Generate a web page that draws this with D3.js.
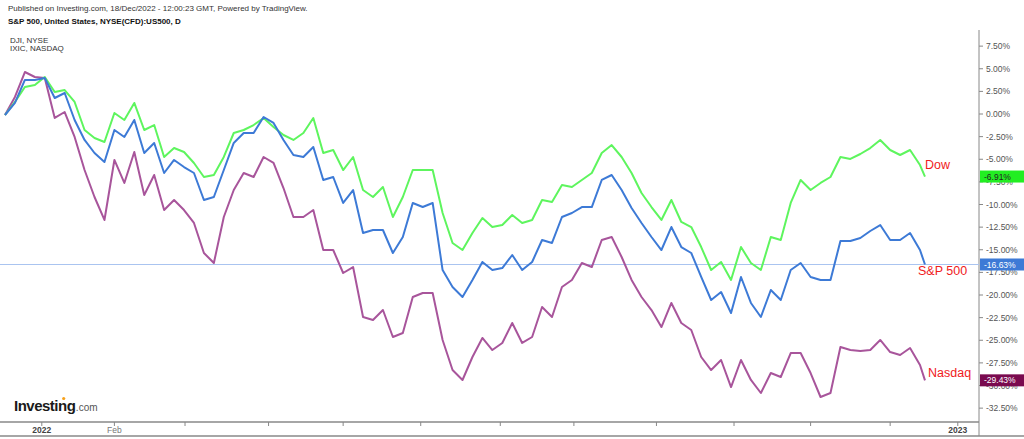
<!DOCTYPE html>
<html><head><meta charset="utf-8">
<script src="https://cdn.jsdelivr.net/npm/d3@7/dist/d3.min.js"></script>
<style>body{margin:0;background:#fff;font-family:Arial,"Liberation Sans",sans-serif}</style>
</head><body><svg id="c" width="1024" height="439"></svg>
<script>
// sample index (each step ≈ 2.7 trading days); last point is the final close
const dow = [-0.11,1.33,2.98,3.20,4.09,2.43,2.65,1.33,-1.77,-2.65,-3.09,0.11,-0.66,1.22,-1.77,-1.22,-4.75,-3.76,-4.20,-5.41,-6.96,-6.74,-4.75,-2.10,-1.77,
-1.22,-0.44,-1.44,-2.32,-2.87,-2.10,-0.44,-4.31,-3.98,-6.19,-4.75,-8.40,-9.17,-8.07,-11.38,-9.17,-6.19,-6.19,-6.19,-10.94,-14.25,-15.03,-13.15,-11.49,
-12.49,-12.27,-11.16,-12.04,-11.71,-9.50,-9.72,-7.85,-8.07,-7.29,-6.52,-4.31,-3.43,-4.75,-6.52,-8.73,-10.28,-11.71,-9.50,-11.93,-12.49,-14.70,-17.24,-16.35,
-18.34,-14.70,-16.46,-17.24,-13.59,-13.92,-9.83,-7.29,-8.40,-7.62,-6.96,-4.75,-4.97,-4.42,-3.76,-2.87,-3.98,-4.53,-3.98,-5.64,-6.91];
const spx = [-0.11,1.22,3.76,3.76,3.98,1.77,2.32,-0.66,-2.87,-4.31,-5.30,-1.77,-2.54,-0.66,-4.31,-3.20,-6.52,-5.08,-5.86,-6.52,-9.50,-9.17,-6.19,-3.20,-2.10,
-2.10,-0.33,-0.99,-2.87,-4.53,-4.75,-3.65,-7.29,-6.96,-9.83,-8.40,-13.15,-12.82,-12.82,-15.36,-13.59,-9.83,-10.28,-9.83,-17.24,-19.12,-20.22,-18.34,-16.35,
-17.24,-17.02,-15.58,-17.24,-16.35,-13.92,-14.25,-11.38,-10.94,-10.28,-10.28,-7.29,-6.74,-8.40,-10.39,-12.04,-13.59,-15.03,-12.49,-14.70,-15.36,-18.01,-20.55,-19.67,
-21.99,-18.01,-20.88,-22.43,-19.45,-20.55,-17.24,-16.46,-18.01,-18.34,-18.34,-14.03,-14.03,-13.70,-12.93,-12.27,-13.92,-13.92,-13.15,-15.03,-16.63];
const ndx = [-0.11,1.88,4.64,4.09,3.98,-0.44,0.22,-2.54,-6.19,-9.17,-11.71,-5.08,-7.62,-4.20,-8.95,-6.74,-10.61,-9.50,-10.61,-12.04,-15.36,-16.46,-11.38,-8.40,-6.52,
-6.96,-4.75,-5.41,-8.18,-11.38,-11.38,-10.61,-15.03,-15.03,-17.57,-16.91,-22.43,-22.76,-21.66,-24.64,-24.20,-20.22,-19.78,-19.78,-24.97,-28.29,-29.39,-26.85,-24.75,
-26.08,-25.30,-23.09,-25.30,-24.64,-21.33,-22.43,-19.12,-18.34,-16.46,-16.91,-13.92,-13.59,-15.80,-18.34,-20.22,-21.66,-23.54,-20.88,-23.09,-23.87,-26.85,-28.29,-27.18,
-30.17,-27.18,-29.39,-30.83,-28.62,-29.06,-26.41,-26.41,-28.62,-31.27,-30.83,-25.75,-26.08,-26.19,-26.08,-24.97,-26.30,-26.63,-25.86,-27.73,-29.43];
const yTicks = [7.5,5,2.5,0,-2.5,-5,-7.5,-10,-12.5,-15,-17.5,-20,-22.5,-25,-27.5,-30,-32.5];
const monthTicks = [3.7,11,18.1,26.5,34,41.8,49.8,57.2,65.5,73.3,81,89,95.8];
const monthLabels = {3.7:"2022",11:"Feb",95.8:"2023"};

const svg = d3.select("#c");
const x = d3.scaleLinear().domain([0,92]).range([5,920]);
const y = d3.scaleLinear().domain([0,-30]).range([114,385.5]);
const xi = (d,i,arr)=> i===arr.length-1 ? x(92.5) : x(i);

svg.append("text").attr("x",8).attr("y",11).attr("font-size",8).attr("fill","#333")
 .text("Published on Investing.com, 18/Dec/2022 - 12:00:23 GMT, Powered by TradingView.");
svg.append("text").attr("x",8).attr("y",24).attr("font-size",8).attr("font-weight","bold").attr("fill","#111")
 .text("S&P 500, United States, NYSE(CFD):US500, D");
svg.append("text").attr("x",10).attr("y",43).attr("font-size",8).attr("fill","#333").text("DJI, NYSE");
svg.append("text").attr("x",10).attr("y",51).attr("font-size",8).attr("fill","#333").text("IXIC, NASDAQ");

svg.append("line").attr("x1",979).attr("x2",979).attr("y1",30).attr("y2",436).attr("stroke","#888");
yTicks.forEach(t=>{
  svg.append("line").attr("x1",979).attr("x2",983).attr("y1",y(t)).attr("y2",y(t)).attr("stroke","#888");
  svg.append("text").attr("x",986).attr("y",y(t)+3).attr("font-size",8.5).attr("fill","#555")
   .text((t<0?"-":"")+Math.abs(t).toFixed(2)+"%");
});
svg.append("line").attr("x1",0).attr("x2",979).attr("y1",422).attr("y2",422).attr("stroke","#888").attr("stroke-width",1.5);
svg.append("line").attr("x1",0).attr("x2",1024).attr("y1",436).attr("y2",436).attr("stroke","#888").attr("stroke-width",1.5);
monthTicks.forEach(m=>{
  svg.append("line").attr("x1",x(m)).attr("x2",x(m)).attr("y1",422).attr("y2",426).attr("stroke","#888");
  if(monthLabels[m]) svg.append("text").attr("x",x(m)).attr("y",433).attr("text-anchor","middle")
   .attr("font-size",8.5).attr("font-weight",monthLabels[m]==="Feb"?"normal":"bold").attr("fill",monthLabels[m]==="Feb"?"#777":"#444").text(monthLabels[m]);
});

svg.append("line").attr("x1",0).attr("x2",979).attr("y1",y(spx[spx.length-1])).attr("y2",y(spx[spx.length-1]))
 .attr("stroke","#aac4f0").attr("stroke-width",1);

const series = [
 {d:ndx,c:"#a8559b",tag:"#7a0a4f",tc:"#fff",lab:"Nasdaq",lx:928,ly:377},
 {d:dow,c:"#5ef55e",tag:"#22ee22",tc:"#222",lab:"Dow",lx:925,ly:169},
 {d:spx,c:"#3d7ad6",tag:"#3d7ad6",tc:"#fff",lab:"S&P 500",lx:918,ly:275},
];
series.forEach(s=>{
  const line = d3.line().x((d,i)=>xi(d,i,s.d)).y(d=>y(d));
  svg.append("path").attr("d",line(s.d)).attr("fill","none").attr("stroke",s.c).attr("stroke-width",2).attr("stroke-linejoin","round");
});
series.forEach(s=>{
  const v = s.d[s.d.length-1];
  svg.append("rect").attr("x",980).attr("y",y(v)-6).attr("width",44).attr("height",12).attr("fill",s.tag);
  svg.append("text").attr("x",984).attr("y",y(v)+3).attr("font-size",8.5).attr("fill",s.tc).text(v.toFixed(2)+"%");
  svg.append("text").attr("x",s.lx).attr("y",s.ly).attr("font-size",12.5).attr("fill","#f0201c").text(s.lab);
});

const g = svg.append("g");
const inv = g.append("text").attr("x",14).attr("y",411).attr("font-size",15).attr("font-weight","bold").attr("fill","#1a1a1a").attr("letter-spacing",-0.5).text("Investing");
const w = inv.node().getComputedTextLength();
g.append("text").attr("x",14+w+0.5).attr("y",411).attr("font-size",10).attr("fill","#555").text(".com");
g.append("circle").attr("cx",14+w*0.81).attr("cy",398.5).attr("r",1.6).attr("fill","#f7a11a");
</script></body></html>
